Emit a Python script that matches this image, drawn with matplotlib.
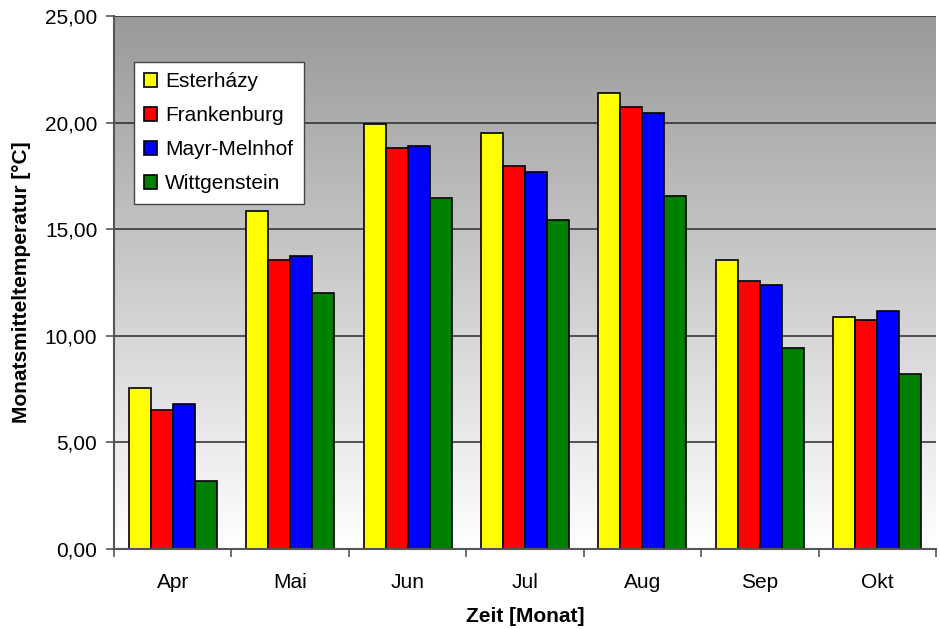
"""Monatsmitteltemperatur je Revier, Apr-Okt (Excel-Stil mit Grauverlauf)."""
import numpy as np
import matplotlib
matplotlib.use("Agg")
import matplotlib.pyplot as plt
from matplotlib.ticker import FixedLocator, FuncFormatter

plt.rcParams["font.family"] = ["Liberation Sans", "DejaVu Sans"]

months = ["Apr", "Mai", "Jun", "Jul", "Aug", "Sep", "Okt"]
series = ["Esterházy", "Frankenburg", "Mayr-Melnhof", "Wittgenstein"]
esterhazy = [7.55, 15.85, 19.95, 19.5, 21.4, 13.55, 10.9]
frankenburg = [6.5, 13.55, 18.8, 17.95, 20.75, 12.55, 10.75]
mayr_melnhof = [6.8, 13.75, 18.9, 17.7, 20.45, 12.4, 11.15]
wittgenstein = [3.2, 12.0, 16.45, 15.45, 16.55, 9.45, 8.2]
values = [esterhazy, frankenburg, mayr_melnhof, wittgenstein]
colors = ["#ffff00", "#ff0000", "#0000ff", "#008000"]

fig = plt.figure(figsize=(9.4, 6.29), dpi=100)
ax = fig.add_axes([0.1213, 0.1272, 0.8744, 0.8474])

# Grauverlauf im Plotbereich (oben grau, unten weiß)
grad = np.linspace(0, 1, 256).reshape(-1, 1)
ax.imshow(grad, cmap=matplotlib.colors.LinearSegmentedColormap.from_list("g", ["#999999", "#ffffff"]),
          extent=[0, 1, 0, 1], transform=ax.transAxes, aspect="auto", zorder=0)

x = np.arange(len(months))
w = 0.1875
for i, (name, vals, c) in enumerate(zip(series, values, colors)):
    ax.bar(x + (i - 1.5) * w, vals, width=w, color=c, edgecolor="black", linewidth=1.2,
           label=name, zorder=3)

ax.set_xlim(-0.5, len(months) - 0.5)
ax.set_ylim(0, 25)
ax.set_yticks(np.arange(0, 26, 5))
ax.yaxis.set_major_formatter(FuncFormatter(lambda v, p: f"{v:.2f}".replace(".", ",")))
for yv in range(5, 26, 5):
    ax.axhline(yv, color="#2a2a2a", lw=1.1, zorder=1)

ax.set_xticks(x)
ax.set_xticklabels(months)
ax.xaxis.set_minor_locator(FixedLocator(np.arange(-0.5, len(months), 1.0)))
ax.tick_params(axis="x", which="major", length=0, pad=17, labelsize=15)
ax.tick_params(axis="x", which="minor", length=6, width=1.2, direction="out", color="#555555")
ax.tick_params(axis="y", length=6, width=1.2, direction="out", color="#555555", pad=6, labelsize=15)

for s in ["top", "right"]:
    ax.spines[s].set_visible(False)
for s in ["left", "bottom"]:
    ax.spines[s].set_color("#555555")
    ax.spines[s].set_linewidth(1.5)
    ax.spines[s].set_zorder(4)

ax.set_xlabel("Zeit [Monat]", fontsize=15, weight="bold", labelpad=11)
ax.set_ylabel("Monatsmitteltemperatur [°C]", fontsize=15, weight="bold", labelpad=10)

leg = ax.legend(loc="upper left", bbox_to_anchor=(0.0243, 0.914), fontsize=15, frameon=True,
                fancybox=False, edgecolor="#444444", framealpha=1, handlelength=0.6,
                handleheight=0.6, handletextpad=0.4, labelspacing=0.72, borderpad=0.5,
                borderaxespad=0)
leg.get_frame().set_linewidth(1.0)
leg.set_zorder(5)

fig.savefig("out.png", dpi=100)
print("saved: out.png")
